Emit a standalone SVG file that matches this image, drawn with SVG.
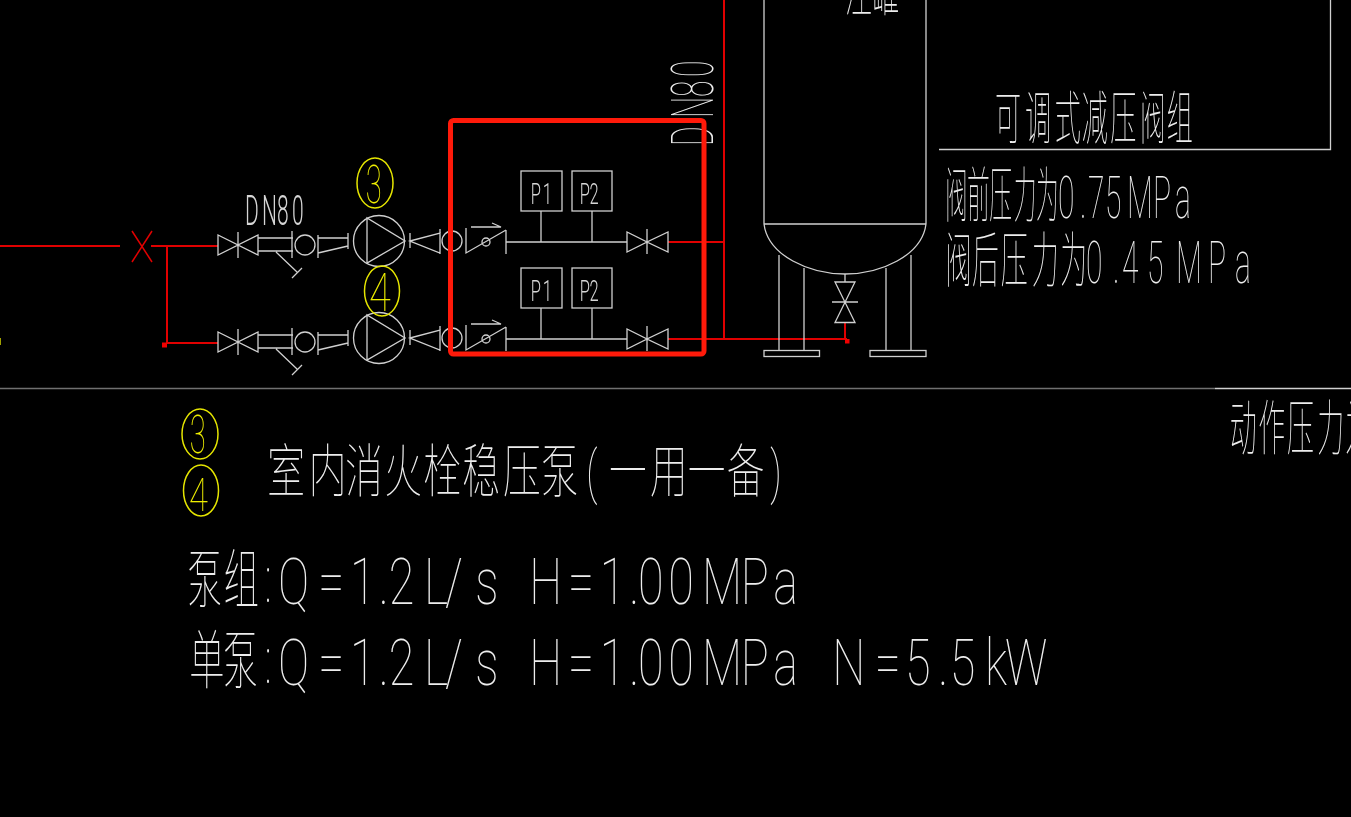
<svg xmlns="http://www.w3.org/2000/svg" width="1351" height="817" viewBox="0 0 1351 817">
<defs>
<style>
.w{fill:none;stroke:#d0d0d0;stroke-width:1.3}
.r{fill:none;stroke:#e00000;stroke-width:2}
.y{fill:none;stroke:#e8e800;stroke-width:1.5}
.dim{fill:none;stroke:#707070;stroke-width:1.3}
text{font-family:Roboto,"Noto Sans CJK SC",sans-serif;font-weight:100;fill:#f0f0f0}
.sm{font-weight:300;fill:#d8d8d8}
.yt{fill:#f0f000}
</style>
<g id="pumpset" class="w">
<path d="M218 235V255L238 245ZM258 235V255L238 245ZM238 232V258"/>
<path d="M258 238H293M258 251H293M292 231V258M276 252L297 272M292 278L302 268"/>
<circle cx="305" cy="245" r="10"/>
<path d="M318 235V258M348 233V249M318 238H348M318 253L348 246"/>
<circle cx="379" cy="241" r="25.500"/>
<path d="M367 218V263L405 241Z"/>
<path d="M410 233V248M410 241L440 233V253Z M440 229V254"/>
<circle cx="452" cy="241" r="10"/>
<path d="M466 228V253L506 230M506 230V254"/>
<circle cx="486" cy="242" r="4"/>
<path d="M471 227H501L492 223"/>
<path d="M506 242H627"/>
<path d="M541 211V242M592 211V242"/>
<rect x="521" y="171" width="41" height="40"/>
<rect x="572" y="171" width="40" height="40"/>
<path d="M627 232V252L647 242ZM668 232V252L647 242ZM647 229V254"/>
</g>
</defs>
<rect width="1351" height="817" fill="#000"/>
<g id="connectors">
<path class="r" d="M0 246H120M151 246H218M167 246V343H218M668 242H724M724 0V339M668 339H847M845 323V339"/>
<rect x="162" y="342.500" width="5" height="5" fill="#f00000"/>
<rect x="845" y="339" width="4.500" height="4.500" fill="#f00000"/>
<path class="r" style="stroke-width:1.500" d="M132 231L152 262M152 231L132 262"/>
<rect x="0" y="338" width="1" height="7" fill="#a0a000"/>
<path class="dim" d="M0 388.500H1215"/>
<path class="w" d="M1215 388.500H1351"/>
</g>
<g id="pump-3"><use href="#pumpset"/></g>
<g id="pump-4"><use href="#pumpset" y="97"/></g>
<g id="tank" class="w">
<path d="M764 0V224M926 0V224M764 224H926M764 224C768 256 810 274 845 274C880 274 922 256 926 224"/>
<path d="M779 255V350M804 268V350M886 268V350M911 255V350"/>
<rect x="764" y="350.500" width="55.500" height="6"/>
<rect x="870" y="350.500" width="56" height="6"/>
<path d="M845 274V282M835 282H855L835 322.500H855ZM832 302H858"/>
</g>
<g id="relief-box"><path class="w" d="M1330.500 0V149.500H939"/></g>
<g opacity=".99">
<g id="labels-p">
<text class="sm" transform="scale(.55 1)" y="204" font-size="30" x="965 987">P1</text>
<text class="sm" transform="scale(.55 1)" y="204" font-size="30" x="1054 1072">P2</text>
<text class="sm" transform="scale(.55 1)" y="301" font-size="30" x="965 987">P1</text>
<text class="sm" transform="scale(.55 1)" y="301" font-size="30" x="1054 1072">P2</text>
<text class="sm" transform="translate(245 225) scale(.5 1)" font-size="42" x="0 34 64 94">DN80</text>
<text transform="translate(713 146) rotate(-90) scale(.5 1)" font-size="60" x="0 56 98 138">DN80</text>
</g>
<g id="tank-label">
<text transform="scale(.45 1)" y="11" font-size="60" x="1878 1938">注罐</text>
</g>
<g id="relief-note">
<text transform="scale(.45 1)" y="139" font-size="58" x="2211 2278 2344 2404 2467 2533 2593">可调式减压阀组</text>
<text transform="scale(.38 1)" y="217" font-size="60" x="2487 2545 2603 2668 2726">阀前压力为</text>
<text transform="scale(.5 1)" y="218" font-size="60" x="2116 2160 2176 2210 2254 2306 2350">0.75MPa</text>
<text transform="scale(.45 1)" y="282" font-size="60" x="2100 2160 2224 2293 2356">阀后压力为</text>
<text transform="scale(.5 1)" y="283" font-size="60" x="2172 2226 2244 2294 2352 2416 2470">0.45MPa</text>
</g>
<g id="action-note">
<text transform="scale(.45 1)" y="450" font-size="60" x="2733 2796 2860 2927 2989">动作压力为</text>
</g>
<g id="tags">
<ellipse class="y" cx="375" cy="183" rx="18" ry="25"/>
<ellipse class="y" cx="382" cy="291" rx="17.500" ry="25"/>
<ellipse class="y" cx="200" cy="434" rx="18" ry="25"/>
<ellipse class="y" cx="201" cy="490.500" rx="17.500" ry="25.500"/>
<text class="yt" transform="scale(.55 1)" y="203" font-size="53" x="665">3</text>
<text class="yt" transform="scale(.75 1)" y="311" font-size="53" x="492">4</text>
<text class="yt" transform="scale(.55 1)" y="453" font-size="53" x="345">3</text>
<text class="yt" transform="scale(.75 1)" y="511" font-size="46" x="252">4</text>
</g>
<g id="spec">
<text transform="scale(.65 1)" y="492" font-size="58" x="411 475 531 591 651 711 774 832 902 937 1000 1058 1118 1185">室内消火栓稳压泵(一用一备)</text>
<text transform="scale(.55 1)" y="602" font-size="64" x="340 407 482">泵组:</text>
<text transform="scale(.72 1)" y="604" font-size="65" x="386 442 486 526 540 589 618 660 694 735 789 833 874 886 928 975 1029 1074">Q=1.2L/s H=1.00MPa</text>
<text transform="scale(.55 1)" y="683" font-size="64" x="344 405 482">单泵:</text>
<text transform="scale(.72 1)" y="685" font-size="65" x="386 442 486 526 540 589 618 660 694 735 789 833 874 886 928 975 1029 1074 1125 1156 1215 1257 1303 1319 1368 1396">Q=1.2L/s H=1.00MPa N=5.5kW</text>
</g>
</g>
<rect id="highlight" x="450.500" y="120.500" width="253.500" height="233.500" rx="3" fill="none" stroke="#ff1a0a" stroke-width="5"/>
</svg>
